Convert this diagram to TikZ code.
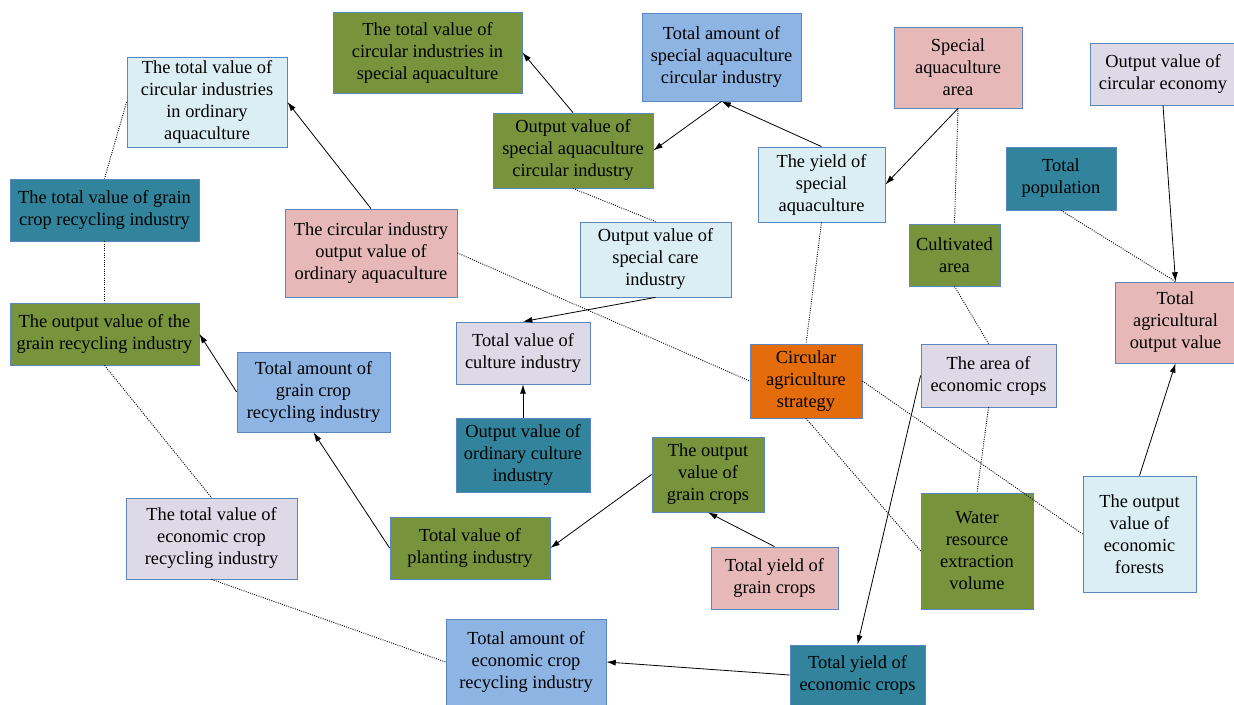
\documentclass[tikz,border=0pt]{standalone}
\usepackage{fontspec}
\setmainfont{Liberation Serif}
\usetikzlibrary{arrows.meta}
\definecolor{cgreen}{HTML}{77933C}
\definecolor{cteal}{HTML}{31849B}
\definecolor{clav}{HTML}{DDD9E6}
\definecolor{clight}{HTML}{DBEEF4}
\definecolor{cblue}{HTML}{8EB4E3}
\definecolor{cpink}{HTML}{E6B9B8}
\definecolor{corange}{HTML}{E46C0A}
\definecolor{cedge}{HTML}{5B86C0}
\begin{document}
\begin{tikzpicture}[x=0.75pt,y=-0.75pt,
    box/.style={draw=cedge,line width=0.6pt,align=center,inner sep=0pt,
      font=\fontsize{13.8}{16.5}\selectfont},
    sz/.style 2 args={minimum width=#1*0.75pt,minimum height=#2*0.75pt},
    arr/.style={-{Latex[length=7pt,width=4.5pt]},line width=0.6pt},
    dot/.style={densely dotted,line width=0.7pt}]
            \useasboundingbox (0,0) rectangle (1234,705);
            \node[box,fill=cgreen,sz={189}{81}] (ssTotal) at (427.5,52.5) {The total value of\\circular industries in\\special aquaculture};
            \node[box,fill=clight,sz={160}{90}] (ordTotal) at (207,102) {The total value of\\circular industries\\in ordinary\\aquaculture};
            \node[box,fill=cteal,sz={189}{62}] (grainTotal) at (104.5,210) {The total value of grain\\crop recycling industry};
            \node[box,fill=cgreen,sz={189}{62}] (grainOut) at (104.5,334) {The output value of the\\grain recycling industry};
            \node[box,fill=cpink,sz={172}{88}] (ordOut) at (371,253) {The circular industry\\output value of\\ordinary aquaculture};
            \node[box,fill=cgreen,sz={160}{75}] (ssOut) at (573,150.5) {Output value of\\special aquaculture\\circular industry};
            \node[box,fill=cblue,sz={159}{88}] (ssAmount) at (721.5,57) {Total amount of\\special aquaculture\\circular industry};
            \node[box,fill=clight,sz={151}{75}] (scOut) at (655.5,259.5) {Output value of\\special care\\industry};
            \node[box,fill=clav,sz={134}{62}] (cultTotal) at (523,353) {Total value of\\culture industry};
            \node[box,fill=cteal,sz={134}{74}] (ordCult) at (523,455) {Output value of\\ordinary culture\\industry};
            \node[box,fill=cblue,sz={153}{80}] (grainAmount) at (313.5,392) {Total amount of\\grain crop\\recycling industry};
            \node[box,fill=clav,sz={171}{81}] (ecoTotal) at (211.5,538.5) {The total value of\\economic crop\\recycling industry};
            \node[box,fill=cgreen,sz={160}{62}] (planting) at (470,548) {Total value of\\planting industry};
            \node[box,fill=cgreen,sz={112}{75}] (grainCrops) at (708,474.5) {The output\\value of\\grain crops};
            \node[box,fill=cpink,sz={127}{62}] (grainYield) at (774.5,578) {Total yield of\\grain crops};
            \node[box,fill=cblue,sz={160}{86}] (ecoAmount) at (526,662) {Total amount of\\economic crop\\recycling industry};
            \node[box,fill=cteal,sz={135}{60}] (ecoYield) at (857.5,675) {Total yield of\\economic crops};
            \node[box,fill=clight,sz={127}{75}] (yield) at (821.5,184.5) {The yield of\\special\\aquaculture};
            \node[box,fill=cpink,sz={128}{81}] (ssArea) at (958,67.5) {Special\\aquaculture\\area};
            \node[box,fill=cgreen,sz={91}{62}] (cultivated) at (954.5,255) {Cultivated\\area};
            \node[box,fill=corange,sz={112}{74}] (strategy) at (806,381) {Circular\\agriculture\\strategy};
            \node[box,fill=clav,sz={135}{63}] (ecoArea) at (988.5,375.5) {The area of\\economic crops};
            \node[box,fill=cgreen,sz={112}{116}] (water) at (977,551) {Water\\resource\\extraction\\volume};
            \node[box,fill=clight,sz={113}{116}] (forest) at (1139.5,534) {The output\\value of\\economic\\forests};
            \node[box,fill=cteal,sz={110}{63}] (pop) at (1061,178.5) {Total\\population};
            \node[box,fill=clav,sz={146}{62}] (circEcon) at (1163,74) {Output value of\\circular economy};
            \node[box,fill=cpink,sz={121}{81}] (agri) at (1175.5,322.5) {Total\\agricultural\\output value};

            \draw[arr] (ssOut.north) -- (ssTotal.east);
            \draw[arr] (ordOut.north) -- (ordTotal.east);
            \draw[arr] (ssAmount.south) -- (ssOut.east);
            \draw[arr] (yield.north) -- (ssAmount.south);
            \draw[arr] (ssArea.south) -- (yield.east);
            \draw[arr] (scOut.south) -- (cultTotal.north);
            \draw[arr] (ordCult.north) -- (cultTotal.south);
            \draw[arr] (grainAmount.west) -- (grainOut.east);
            \draw[arr] (planting.west) -- (grainAmount.south);
            \draw[arr] (grainCrops.west) -- (planting.east);
            \draw[arr] (grainYield.north) -- (grainCrops.south);
            \draw[arr] (ecoArea.west) -- (ecoYield.north);
            \draw[arr] (ecoYield.west) -- (ecoAmount.east);
            \draw[arr] (forest.north) -- (agri.south);
            \draw[arr] (circEcon.south) -- (agri.north);

            \draw[dot] (ordTotal.west) -- (grainTotal.north);
            \draw[dot] (grainTotal.south) -- (grainOut.north);
            \draw[dot] (grainOut.south) -- (ecoTotal.north);
            \draw[dot] (ecoTotal.south) -- (ecoAmount.west);
            \draw[dot] (ssOut.south) -- (scOut.north);
            \draw[dot] (ordOut.east) -- (strategy.west);
            \draw[dot] (yield.south) -- (strategy.north);
            \draw[dot] (strategy.south) -- (water.west);
            \draw[dot] (strategy.east) -- (forest.west);
            \draw[dot] (ssArea.south) -- (cultivated.north);
            \draw[dot] (cultivated.south) -- (ecoArea.north);
            \draw[dot] (ecoArea.south) -- (water.north);
            \draw[dot] (pop.south) -- (agri.north);
\end{tikzpicture}
\end{document}
